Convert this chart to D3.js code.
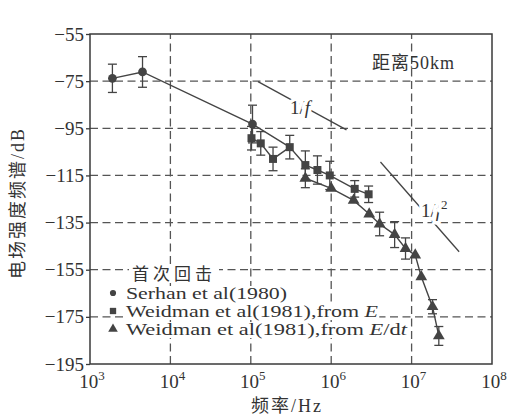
<!DOCTYPE html>
<html>
<head>
<meta charset="utf-8">
<script src="https://cdn.jsdelivr.net/npm/d3@7"></script>
<style>
body { margin: 0; background: #fff; }
svg text { font-family: "Liberation Serif", "Noto Sans CJK SC", serif; fill: #333; }
</style>
</head>
<body>
<div id="wrapper"></div>
<script>
// tick values
const yTicks = [-55, -75, -95, -115, -135, -155, -175, -195];
const xTicks = [1e3, 1e4, 1e5, 1e6, 1e7, 1e8];
const yGrid = [-75, -95, -115, -135, -155, -175];
const xGrid = [1e4, 1e5, 1e6, 1e7];

// Serhan et al (1980)
const serhanFreq = [1.9e3, 4.5e3, 1.05e5];
const serhanDb = [-73.8, -71.1, -93.2];
const serhanErr = [6, 6.5, 8];

// Weidman et al (1981), from E
const fromEFreq = [1.02e5, 1.33e5, 1.89e5, 3.05e5, 4.77e5, 6.74e5, 9.6e5, 1.96e6, 2.92e6];
const fromEDb = [-99.2, -101.4, -108.0, -103.0, -110.6, -112.7, -115.0, -120.7, -123.0];
const fromEErr = [5, 5, 5, 5, 6, 6, 6, 3.5, 3.5];

// Weidman et al (1981), from dE/dt
const fromDtFreq = [4.77e5, 1.0e6, 1.9e6, 2.97e6, 4.0e6, 6.15e6, 8.4e6, 1.11e7, 1.32e7, 1.82e7, 2.18e7];
const fromDtDb = [-116.2, -120.5, -125.6, -131.4, -135.6, -140.1, -146.0, -148.8, -158.0, -170.7, -183.1];
const fromDtErr = [4, 0, 0, 0, 5, 5.5, 4.5, 0, 0, 3, 4];

// reference slopes 1/f and 1/f^2
const slope1Freq = [1.23e5, 1.55e6];
const slope1Db = [-75.2, -95.7];
const slope2Freq = [4.1e6, 3.9e7];
const slope2Db = [-109.3, -147.4];

const legendLabels = ["Serhan et al(1980)", "Weidman et al(1981),from ", "Weidman et al(1981),from "];
const legendWidths = [161, 252, 281];

const dimensions = {
    width: 507,
    height: 416,
    margin: { top: 34, right: 15, bottom: 52, left: 90 },
};
dimensions.boundedWidth = dimensions.width - dimensions.margin.left - dimensions.margin.right;
dimensions.boundedHeight = dimensions.height - dimensions.margin.top - dimensions.margin.bottom;

const ink = "#3a3a3a";

const svg = d3.select("#wrapper")
    .append("svg")
    .attr("width", dimensions.width)
    .attr("height", dimensions.height);

const xScale = d3.scaleLog()
    .domain([1e3, 1e8])
    .range([dimensions.margin.left, dimensions.margin.left + dimensions.boundedWidth]);

const yScale = d3.scaleLinear()
    .domain([-195, -55])
    .range([dimensions.margin.top + dimensions.boundedHeight, dimensions.margin.top]);

const zip = (f, v, e) => f.map((d, i) => ({ f: d, v: v[i], e: e ? e[i] : 0 }));
const serhan = zip(serhanFreq, serhanDb, serhanErr);
const fromE = zip(fromEFreq, fromEDb, fromEErr);
const fromDt = zip(fromDtFreq, fromDtDb, fromDtErr);

// grid
const grid = svg.append("g")
    .attr("stroke", "#555")
    .attr("stroke-width", 1.3)
    .attr("stroke-dasharray", "8,4.5");
grid.selectAll(".hg").data(yGrid).join("line")
    .attr("x1", xScale.range()[0]).attr("x2", xScale.range()[1])
    .attr("y1", d => yScale(d)).attr("y2", d => yScale(d));
grid.selectAll(".vg").data(xGrid).join("line")
    .attr("x1", d => xScale(d)).attr("x2", d => xScale(d))
    .attr("y1", yScale.range()[0]).attr("y2", yScale.range()[1]);

// axes
const yAxis = svg.append("g")
    .attr("transform", `translate(${dimensions.margin.left},0)`)
    .call(d3.axisLeft(yScale).tickValues(yTicks).tickSize(4).tickPadding(2)
        .tickFormat(d => "\u2212" + Math.abs(d)));
yAxis.select(".domain").remove();
yAxis.selectAll("line").attr("stroke", ink).attr("stroke-width", 1.3);
yAxis.selectAll("text").attr("font-size", 19).attr("fill", ink)
    .style("font-family", "Liberation Serif");

const xLabels = svg.append("g");
xTicks.forEach(d => {
    const t = xLabels.append("text")
        .attr("x", xScale(d) + 2)
        .attr("y", 388)
        .attr("text-anchor", "middle")
        .attr("font-size", 19);
    t.append("tspan").text("10");
    t.append("tspan").attr("dy", -8).attr("font-size", 13).text(Math.round(Math.log10(d)));
});

// frame
svg.append("rect")
    .attr("x", xScale.range()[0]).attr("y", yScale.range()[1])
    .attr("width", dimensions.boundedWidth).attr("height", dimensions.boundedHeight)
    .attr("fill", "none").attr("stroke", ink).attr("stroke-width", 1.5);

// axis titles
svg.append("text")
    .attr("transform", "translate(24,203) rotate(-90)")
    .attr("text-anchor", "middle")
    .attr("font-size", 18)
    .attr("letter-spacing", 2)
    .text("电场强度频谱/dB");
svg.append("text")
    .attr("x", 287).attr("y", 412)
    .attr("text-anchor", "middle")
    .attr("font-size", 18)
    .attr("letter-spacing", 2)
    .text("频率/Hz");

// reference slopes
const line = d3.line().x(d => xScale(d.f)).y(d => yScale(d.v));
[[slope1Freq, slope1Db], [slope2Freq, slope2Db]].forEach(([f, v]) => {
    svg.append("path")
        .datum(zip(f, v))
        .attr("d", line)
        .attr("fill", "none").attr("stroke", "#444").attr("stroke-width", 1.3);
});

const slopeLabel = (x, y, sup) => {
    const t = svg.append("text")
        .attr("x", x).attr("y", y)
        .attr("font-size", 19)
        .attr("stroke", "#fff").attr("stroke-width", 7)
        .attr("paint-order", "stroke");
    t.append("tspan").text("1/");
    t.append("tspan").attr("font-style", "italic").text("f");
    if (sup) t.append("tspan").attr("dy", -8).attr("font-size", 13).text(sup);
};
slopeLabel(290, 114, null);
slopeLabel(421, 217, "2");

// data lines
const lineStyle = sel => sel.attr("fill", "none").attr("stroke", "#444").attr("stroke-width", 1.4);
svg.append("path").datum(serhan.concat([fromE[3]])).attr("d", line).call(lineStyle);
svg.append("path").datum(fromE).attr("d", line).call(lineStyle);
svg.append("path").datum(fromDt).attr("d", line).call(lineStyle);

// error bars
const errBars = data => {
    const g = svg.append("g").attr("stroke", "#444").attr("stroke-width", 1.3);
    const withErr = data.filter(d => d.e > 0);
    g.selectAll(".v").data(withErr).join("line")
        .attr("x1", d => xScale(d.f)).attr("x2", d => xScale(d.f))
        .attr("y1", d => yScale(d.v + d.e)).attr("y2", d => yScale(d.v - d.e));
    [1, -1].forEach(s => {
        g.selectAll(".c" + s).data(withErr).join("line")
            .attr("x1", d => xScale(d.f) - 4.5).attr("x2", d => xScale(d.f) + 4.5)
            .attr("y1", d => yScale(d.v + s * d.e)).attr("y2", d => yScale(d.v + s * d.e));
    });
};
errBars(serhan);
errBars(fromE);
errBars(fromDt);

// markers
const symbols = [d3.symbolCircle, d3.symbolSquare, d3.symbolTriangle];
const sizes = [60, 64, 60];
[serhan, fromE, fromDt].forEach((data, i) => {
    svg.append("g").selectAll("path").data(data).join("path")
        .attr("transform", d => `translate(${xScale(d.f)},${yScale(d.v)})`)
        .attr("d", d3.symbol(symbols[i], sizes[i]))
        .attr("fill", "#444");
});

// legend
const legend = svg.append("g");
const addBg = (t, pad) => {
    const b = t.node().getBBox();
    legend.insert("rect", "text")
        .attr("x", b.x - pad).attr("y", b.y + 1)
        .attr("width", b.width + pad * 2).attr("height", b.height - 2)
        .attr("fill", "#fff");
};
const head = legend.append("text")
    .attr("x", 132).attr("y", 280)
    .attr("font-size", 17)
    .attr("letter-spacing", 4)
    .text("首次回击");
addBg(head, 3);

const rowY = [299, 317, 335];
legendLabels.forEach((label, i) => {
    const t = legend.append("text")
        .attr("x", 126).attr("y", rowY[i])
        .attr("font-size", 16)
        .attr("textLength", legendWidths[i])
        .attr("lengthAdjust", "spacingAndGlyphs")
        .text(label);
    if (i === 1) t.append("tspan").attr("font-style", "italic").text("E");
    if (i === 2) {
        t.append("tspan").attr("font-style", "italic").text("E");
        t.append("tspan").text("/d");
        t.append("tspan").attr("font-style", "italic").text("t");
    }
    addBg(t, 1);
    legend.append("path")
        .attr("transform", `translate(113,${rowY[i] - 6})`)
        .attr("d", d3.symbol(symbols[i], i === 0 ? 30 : 40))
        .attr("fill", "#444");
});

svg.append("text")
    .attr("x", 372).attr("y", 69)
    .attr("font-size", 18)
    .attr("letter-spacing", 1)
    .text("距离50km");
</script>
</body>
</html>
